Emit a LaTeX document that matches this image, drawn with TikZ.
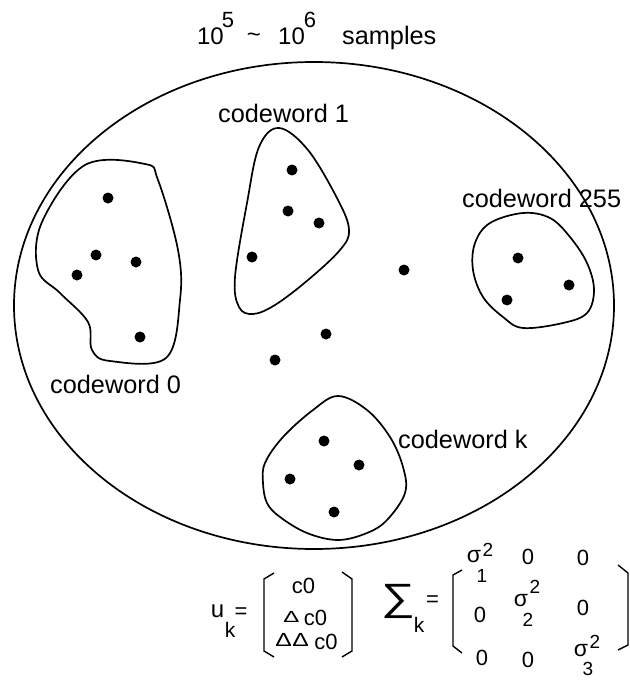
\documentclass[tikz,border=0pt]{standalone}
\usepackage{fontspec}
\usepackage{graphicx}
\setmainfont{Liberation Sans}

\newcommand{\smalltri}{\scalebox{1.5}[1]{\fontsize{16}{16}\selectfont Δ}}
\newcommand{\bigtri}{\scalebox{1.3}[1]{\fontsize{19}{19}\selectfont Δ}}

\begin{document}
\begin{tikzpicture}[x=1pt,y=-1pt,
   blob/.style={draw,line width=1.7pt},
   sample/.style={circle,fill,inner sep=0pt,minimum size=11pt},
   lbl/.style={inner sep=0pt,anchor=base west,font=\fontsize{25.3}{28}\selectfont},
   entry/.style={inner sep=0pt,font=\fontsize{22}{24}\selectfont},
   idx/.style={inner sep=0pt,font=\fontsize{19}{20}\selectfont},
   bracket/.style={line width=1.4pt}]
   \useasboundingbox (0,0) rectangle (629,682);

   % header
   \node[entry,font=\fontsize{24}{26}\selectfont] (ten5)  at (210.5,36.5) {10};
   \node[idx,font=\fontsize{22}{24}\selectfont]   (exp5)  at (228,20)     {5};
   \node[entry,font=\fontsize{24}{26}\selectfont] (tilde) at (254,38)     {\textasciitilde};
   \node[entry,font=\fontsize{24}{26}\selectfont] (ten6)  at (291.5,36.5) {10};
   \node[idx,font=\fontsize{22}{24}\selectfont]   (exp6)  at (310,20)     {6};
   \node[lbl] (samples) at (342,45) {samples};

   % sample space
   \draw[line width=1.7pt] (314,305.5) ellipse [x radius=300, y radius=243.5];

   % codeword 0
   \draw[blob] plot[smooth cycle,tension=0.6] coordinates {(85,165) (145,164) (158,180) (178,250)
      (180,300) (166,358) (110,361) (92,350) (88,322) (60,293) (38,270) (42,222)};
   \node[sample] (a1) at (108,198) {};
   \node[sample] (a2) at (96,255)  {};
   \node[sample] (a3) at (136,262) {};
   \node[sample] (a4) at (77,275)  {};
   \node[sample] (a5) at (140,337) {};
   \node[lbl] (cw0) at (50,393) {codeword 0};

   % codeword 1
   \draw[blob] plot[smooth cycle,tension=0.6] coordinates {(279,128) (308,150) (338,200) (349,230)
      (340,250) (308,280) (275,305) (253,314) (239,307) (235,277) (247,203) (259,147)};
   \node[sample] (b1) at (292,170) {};
   \node[sample] (b2) at (288,211) {};
   \node[sample] (b3) at (319,223) {};
   \node[sample] (b4) at (252,257) {};
   \node[lbl] (cw1) at (218,122) {codeword 1};

   % codeword 255
   \draw[blob] plot[smooth cycle,tension=0.6] coordinates {(523,213) (550,218) (570,237) (587,263)
      (594,290) (587,313) (563,323) (523,328) (503,317) (483,297) (473,270) (475,243) (490,223)};
   \node[sample] (c1) at (518,258) {};
   \node[sample] (c2) at (569,285) {};
   \node[sample] (c3) at (507,300) {};
   \node[lbl] (cw255) at (462,207) {codeword 255};

   % codeword k
   \draw[blob] plot[smooth cycle,tension=0.6] coordinates {(338,396) (367,410) (390,437) (403,467)
      (405,493) (387,520) (367,533) (338,540) (307,533) (280,517) (267,503) (263,483) (265,463)
      (283,437) (313,410)};
   \node[sample] (k1) at (324,441) {};
   \node[sample] (k2) at (359,465) {};
   \node[sample] (k3) at (290,479) {};
   \node[sample] (k4) at (334,512) {};
   \node[lbl] (cwk) at (398,448) {codeword k};

   % loose samples
   \node[sample] (f1) at (404,270) {};
   \node[sample] (f2) at (326,334) {};
   \node[sample] (f3) at (275,360) {};

   % mean vector
   \node[entry,font=\fontsize{24}{26}\selectfont] (u) at (217.5,611) {u};
   \node[idx,font=\fontsize{21}{22}\selectfont] (uk) at (230,629.5) {k};
   \node[entry] (ueq) at (241,613.5) {=};
   \draw[bracket] (274,573) -- (264,579) -- (264,651) -- (274,657);
   \draw[bracket] (342,572) -- (352,579) -- (352,651) -- (342,657);
   \node[entry] (m1) at (303.5,585.5) {c0};
   \node[inner sep=0pt] (d1) at (291.5,617) {\smalltri};
   \node[entry] (m2) at (315.5,617.5) {c0};
   \node[inner sep=0pt] (d2) at (283.5,640) {\bigtri};
   \node[inner sep=0pt] (d3) at (300.5,640) {\bigtri};
   \node[entry] (m3) at (326,641.5) {c0};

   % covariance
   \node[inner sep=0pt,font=\fontsize{38}{40}\selectfont] (sum) at (398.5,601) {\scalebox{1.25}[1]{∑}};
   \node[idx,font=\fontsize{21}{22}\selectfont] (sk) at (419,624.5) {k};
   \node[entry] (seq) at (432.5,601.5) {=};
   \draw[bracket] (462,570) -- (453,575) -- (453,646) -- (462,653);
   \draw[bracket] (618,565) -- (628,573) -- (628,645) -- (618,650);
   \node[entry,font=\fontsize{23}{26}\selectfont] (s1) at (474,557) {σ};
   \node[idx] (s1p) at (488,550) {2};
   \node[idx] (s1b) at (482,576) {1};
   \node[entry] (z12) at (528,557) {0};
   \node[entry] (z13) at (583,558) {0};
   \node[entry] (z21) at (480,615) {0};
   \node[entry,font=\fontsize{23}{26}\selectfont] (s2) at (521,601) {σ};
   \node[idx] (s2p) at (535,587) {2};
   \node[idx] (s2b) at (528,620) {2};
   \node[entry] (z23) at (583,608) {0};
   \node[entry] (z31) at (482,658) {0};
   \node[entry] (z32) at (528,660) {0};
   \node[entry,font=\fontsize{23}{26}\selectfont] (s3) at (581,651) {σ};
   \node[idx] (s3p) at (595,642) {2};
   \node[idx] (s3b) at (588,669) {3};
\end{tikzpicture}
\end{document}
